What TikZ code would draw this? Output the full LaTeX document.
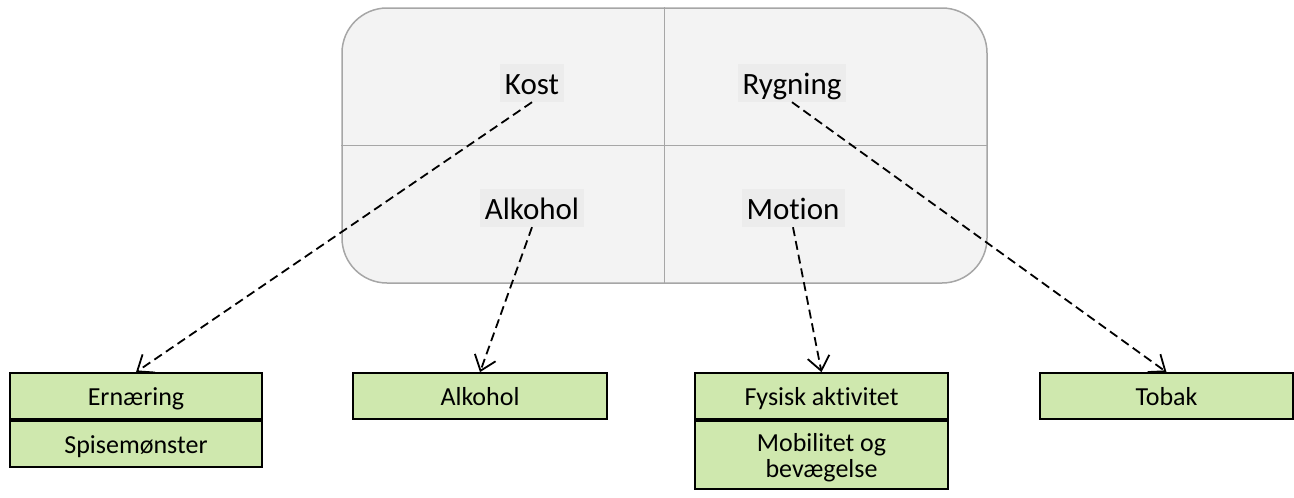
\documentclass[tikz,border=0pt]{standalone}
\usepackage{fontspec}
\setmainfont{Carlito}[Ligatures=NoCommon]
\usetikzlibrary{arrows.meta}
\definecolor{panelfill}{HTML}{F3F3F3}
\definecolor{panelline}{HTML}{A6A6A6}
\definecolor{labelfill}{HTML}{ECECEC}
\definecolor{boxfill}{HTML}{CFE8AE}
\tikzset{
  panel/.style={draw=panelline, line width=1.5pt, fill=panelfill, rounded corners=45pt, inner sep=0pt},
  divider/.style={draw=panelline, line width=1.5pt},
  catlabel/.style={fill=labelfill, inner xsep=5pt, inner ysep=0pt, text height=24pt, text depth=2pt, minimum height=38pt, font=\fontsize{31}{36}\selectfont},
  greenbox/.style={draw=black, line width=1.7pt, fill=boxfill, inner sep=2pt, align=center, font=\fontsize{26}{26}\selectfont},
  onerow/.style={text height=20pt, text depth=2pt},
  tworow/.style={text height=49pt, text depth=5pt},
  link/.style={dashed, dash pattern=on 9pt off 5pt, line width=1.8pt, -{Straight Barb[length=14pt,width=22pt,line width=1.8pt]}}
}
\begin{document}
\begin{tikzpicture}[x=1pt,y=-1pt]
\useasboundingbox (0,0) rectangle (1294,498);
% panel
\node[panel, minimum width=645pt, minimum height=275pt] (panel) at (664.5,145.5) {};
\draw[divider] (panel.north) -- (panel.south);
\draw[divider] (panel.west) -- (panel.east);
% labels
\node[catlabel] (kost) at (532,83) {Kost};
\node[catlabel] (ryg) at (792,83) {Rygning};
\node[catlabel] (alk) at (532,208) {Alkohol};
\node[catlabel] (mot) at (793,208) {Motion};
% boxes
\node[greenbox, onerow, minimum width=252pt, minimum height=46pt] (ern) at (136,396) {Ernæring};
\node[greenbox, onerow, minimum width=252pt, minimum height=46pt] (spise) at (136,444) {Spisemønster};
\node[greenbox, onerow, minimum width=254pt, minimum height=46pt] (alkbox) at (480,396) {Alkohol};
\node[greenbox, onerow, minimum width=253pt, minimum height=46pt] (fys) at (821.5,396) {Fysisk aktivitet};
\node[greenbox, tworow, minimum width=253pt, minimum height=68pt] (mob) at (821.5,455) {Mobilitet og\\bevægelse};
\node[greenbox, onerow, minimum width=253pt, minimum height=46pt] (tob) at (1166.5,396) {Tobak};
% links
\draw[link] (kost.south) -- (ern.north);
\draw[link] (ryg.south) -- (tob.north);
\draw[link] (alk.south) -- (alkbox.north);
\draw[link] (mot.south) -- (fys.north);
\end{tikzpicture}
\end{document}
